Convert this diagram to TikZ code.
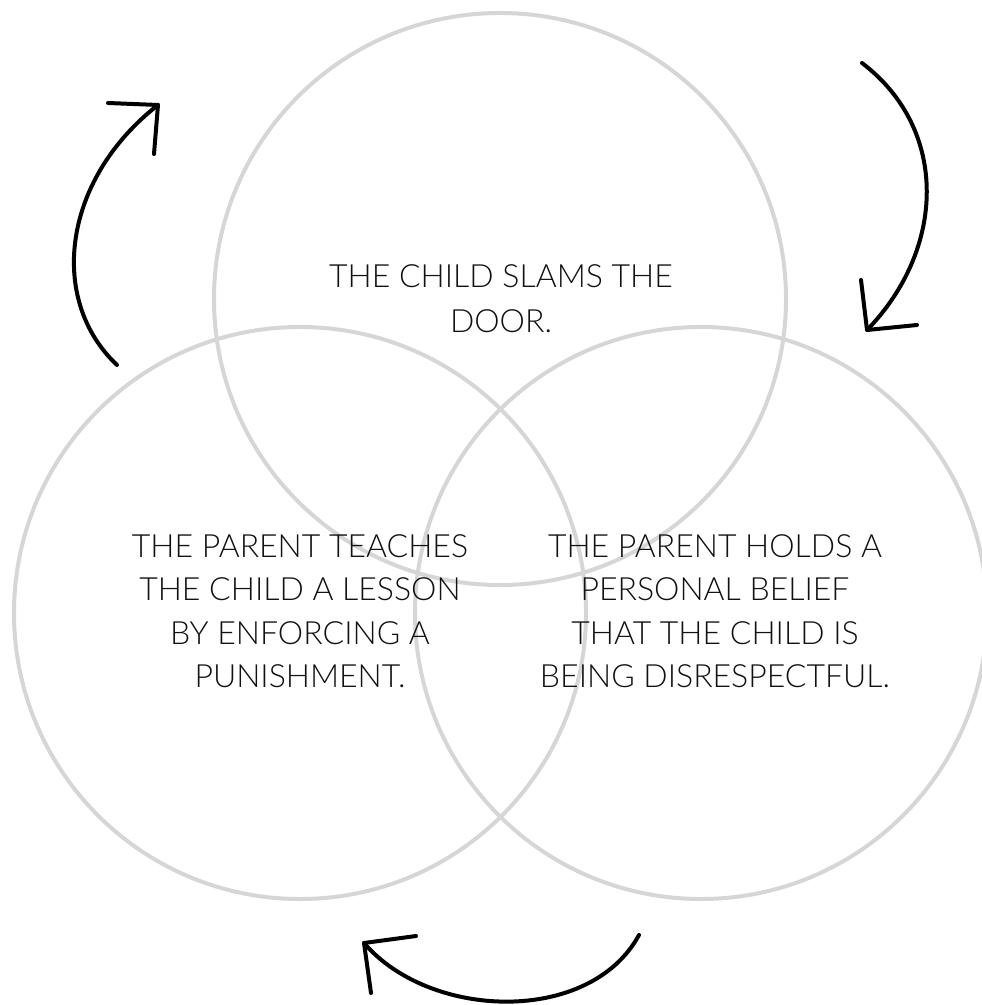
\documentclass[tikz,border=0pt]{standalone}
\usepackage{fontspec}
\setmainfont{Lato Light}
\usetikzlibrary{calc}

\definecolor{ringgray}{HTML}{D6D6D6}
\definecolor{inkgray}{HTML}{111111}

\begin{document}
\begin{tikzpicture}[x=0.75pt,y=-0.75pt,
		ring/.style={draw=ringgray, line width=3pt},
		txt/.style={align=center, inner sep=0pt, text=inkgray,
			font=\fontsize{24}{32.6}\selectfont},
		turn/.style={draw=black, line width=3pt, line cap=round, line join=round}]
		\useasboundingbox (0,0) rectangle (981,1005);
		%\draw[help lines] (0,0) grid[step=50] (981,1005);

		% the three rings
		\draw[ring] (500,299) circle[radius=214.5pt];
		\draw[ring] (300,613) circle[radius=214.5pt];
		\draw[ring] (701,613) circle[radius=214.5pt];

		\node[txt, font=\fontsize{24}{33.7}\selectfont] (door) at (501,299) {THE CHILD SLAMS THE\\DOOR.};
		\node[txt] (lesson) at (300,611) {THE PARENT TEACHES\\THE CHILD A LESSON\\BY ENFORCING A\\PUNISHMENT.};
		\node[txt] (belief) at (715,611) {THE PARENT HOLDS A\\PERSONAL BELIEF\\THAT THE CHILD IS\\BEING DISRESPECTFUL.};

		% turning arrows
		\coordinate (ls) at (117,365);
		\coordinate (lt) at (158,105);
		\coordinate (rs) at (862,63);
		\coordinate (rt) at (867,330);
		\coordinate (bs) at (639,935);
		\coordinate (bt) at (364,943);

		\draw[turn] (ls) .. controls (48,300) and (62,180) .. (lt);
		\draw[turn] (108,103) -- (lt) -- (154,154);
		\draw[turn] (rs) .. controls (950,130) and (945,250) .. (rt);
		\draw[turn] (861,280) -- (rt) -- (917,325);
		\draw[turn] (bs) .. controls (590,1025) and (430,1020) .. (bt);
		\draw[turn] (416,936) -- (bt) -- (371,993);
	\end{tikzpicture}
\end{document}
